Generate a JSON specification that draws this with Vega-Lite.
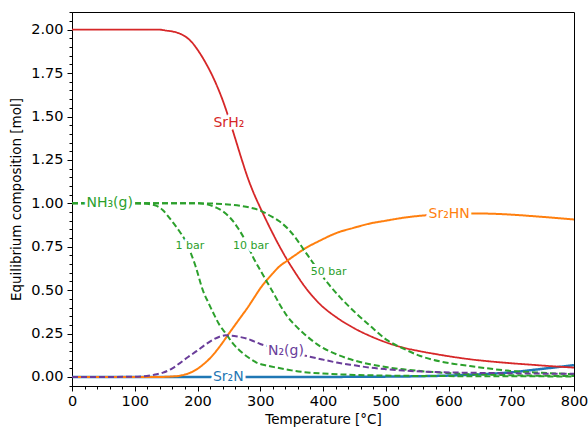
{
  "$schema": "https://vega.github.io/schema/vega-lite/v6.json",
  "width": 502,
  "height": 374,
  "autosize": "none",
  "padding": {"left": 72, "top": 12, "right": 14, "bottom": 44},
  "background": "white",
  "config": {
    "view": {"stroke": "#000", "strokeWidth": 1},
    "font": "DejaVu Sans",
    "axis": {"grid": false, "domainColor": "#000", "tickColor": "#000", "labelColor": "#000", "titleColor": "#000", "labelFont": "DejaVu Sans", "titleFont": "DejaVu Sans", "titleFontWeight": "normal"}
  },
  "datasets": {
    "curves": [
      {"s":"Sr2N","x":0,"y":0},{"s":"Sr2N","x":400,"y":0},{"s":"Sr2N","x":450,"y":0.001},{"s":"Sr2N","x":500,"y":0.002},{"s":"Sr2N","x":550,"y":0.004},{"s":"Sr2N","x":600,"y":0.008},{"s":"Sr2N","x":650,"y":0.015},{"s":"Sr2N","x":700,"y":0.027},{"s":"Sr2N","x":750,"y":0.047},{"s":"Sr2N","x":800,"y":0.068},
      {"s":"SrH2","x":0,"y":2.0},{"s":"SrH2","x":100,"y":2.0},{"s":"SrH2","x":140,"y":2.0},{"s":"SrH2","x":150,"y":1.995},{"s":"SrH2","x":160,"y":1.99},{"s":"SrH2","x":170,"y":1.98},{"s":"SrH2","x":180,"y":1.962},{"s":"SrH2","x":190,"y":1.932},{"s":"SrH2","x":200,"y":1.885},{"s":"SrH2","x":210,"y":1.828},{"s":"SrH2","x":220,"y":1.762},{"s":"SrH2","x":230,"y":1.685},{"s":"SrH2","x":240,"y":1.595},{"s":"SrH2","x":250,"y":1.49},{"s":"SrH2","x":260,"y":1.375},{"s":"SrH2","x":270,"y":1.258},{"s":"SrH2","x":280,"y":1.148},{"s":"SrH2","x":290,"y":1.055},{"s":"SrH2","x":300,"y":0.975},{"s":"SrH2","x":315,"y":0.862},{"s":"SrH2","x":330,"y":0.757},{"s":"SrH2","x":342,"y":0.68},{"s":"SrH2","x":355,"y":0.605},{"s":"SrH2","x":370,"y":0.525},{"s":"SrH2","x":395,"y":0.42},{"s":"SrH2","x":422,"y":0.342},{"s":"SrH2","x":450,"y":0.28},{"s":"SrH2","x":475,"y":0.236},{"s":"SrH2","x":500,"y":0.2},{"s":"SrH2","x":528,"y":0.169},{"s":"SrH2","x":555,"y":0.148},{"s":"SrH2","x":581,"y":0.131},{"s":"SrH2","x":610,"y":0.114},{"s":"SrH2","x":634,"y":0.102},{"s":"SrH2","x":665,"y":0.09},{"s":"SrH2","x":693,"y":0.081},{"s":"SrH2","x":730,"y":0.071},{"s":"SrH2","x":760,"y":0.063},{"s":"SrH2","x":800,"y":0.054},
      {"s":"Sr2HN","x":0,"y":0},{"s":"Sr2HN","x":140,"y":0},{"s":"Sr2HN","x":150,"y":0.001},{"s":"Sr2HN","x":160,"y":0.003},{"s":"Sr2HN","x":170,"y":0.006},{"s":"Sr2HN","x":180,"y":0.014},{"s":"Sr2HN","x":190,"y":0.027},{"s":"Sr2HN","x":200,"y":0.047},{"s":"Sr2HN","x":210,"y":0.075},{"s":"Sr2HN","x":220,"y":0.108},{"s":"Sr2HN","x":230,"y":0.15},{"s":"Sr2HN","x":240,"y":0.198},{"s":"Sr2HN","x":250,"y":0.25},{"s":"Sr2HN","x":260,"y":0.3},{"s":"Sr2HN","x":270,"y":0.35},{"s":"Sr2HN","x":280,"y":0.4},{"s":"Sr2HN","x":290,"y":0.455},{"s":"Sr2HN","x":300,"y":0.51},{"s":"Sr2HN","x":310,"y":0.556},{"s":"Sr2HN","x":320,"y":0.597},{"s":"Sr2HN","x":330,"y":0.635},{"s":"Sr2HN","x":342,"y":0.667},{"s":"Sr2HN","x":355,"y":0.7},{"s":"Sr2HN","x":370,"y":0.737},{"s":"Sr2HN","x":395,"y":0.785},{"s":"Sr2HN","x":422,"y":0.83},{"s":"Sr2HN","x":450,"y":0.86},{"s":"Sr2HN","x":475,"y":0.884},{"s":"Sr2HN","x":500,"y":0.9},{"s":"Sr2HN","x":528,"y":0.917},{"s":"Sr2HN","x":560,"y":0.93},{"s":"Sr2HN","x":600,"y":0.94},{"s":"Sr2HN","x":640,"y":0.942},{"s":"Sr2HN","x":670,"y":0.94},{"s":"Sr2HN","x":700,"y":0.935},{"s":"Sr2HN","x":746,"y":0.923},{"s":"Sr2HN","x":800,"y":0.907},
      {"s":"NH3_1","x":0,"y":1},{"s":"NH3_1","x":100,"y":1},{"s":"NH3_1","x":120,"y":0.997},{"s":"NH3_1","x":135,"y":0.985},{"s":"NH3_1","x":145,"y":0.96},{"s":"NH3_1","x":153,"y":0.926},{"s":"NH3_1","x":165,"y":0.87},{"s":"NH3_1","x":172,"y":0.835},{"s":"NH3_1","x":180,"y":0.79},{"s":"NH3_1","x":188,"y":0.725},{"s":"NH3_1","x":196,"y":0.648},{"s":"NH3_1","x":209,"y":0.495},{"s":"NH3_1","x":217,"y":0.43},{"s":"NH3_1","x":225,"y":0.37},{"s":"NH3_1","x":235,"y":0.3},{"s":"NH3_1","x":246,"y":0.246},{"s":"NH3_1","x":257,"y":0.19},{"s":"NH3_1","x":268,"y":0.15},{"s":"NH3_1","x":280,"y":0.115},{"s":"NH3_1","x":294,"y":0.083},{"s":"NH3_1","x":310,"y":0.066},{"s":"NH3_1","x":326,"y":0.054},{"s":"NH3_1","x":350,"y":0.038},{"s":"NH3_1","x":370,"y":0.028},{"s":"NH3_1","x":400,"y":0.02},{"s":"NH3_1","x":450,"y":0.012},{"s":"NH3_1","x":500,"y":0.008},{"s":"NH3_1","x":600,"y":0.005},{"s":"NH3_1","x":700,"y":0.004},{"s":"NH3_1","x":800,"y":0.003},
      {"s":"NH3_10","x":0,"y":1},{"s":"NH3_10","x":200,"y":1.0},{"s":"NH3_10","x":215,"y":0.994},{"s":"NH3_10","x":230,"y":0.975},{"s":"NH3_10","x":240,"y":0.955},{"s":"NH3_10","x":252,"y":0.917},{"s":"NH3_10","x":265,"y":0.855},{"s":"NH3_10","x":277,"y":0.78},{"s":"NH3_10","x":289,"y":0.687},{"s":"NH3_10","x":300,"y":0.615},{"s":"NH3_10","x":310,"y":0.552},{"s":"NH3_10","x":320,"y":0.49},{"s":"NH3_10","x":331,"y":0.418},{"s":"NH3_10","x":342,"y":0.355},{"s":"NH3_10","x":355,"y":0.3},{"s":"NH3_10","x":368,"y":0.255},{"s":"NH3_10","x":395,"y":0.178},{"s":"NH3_10","x":422,"y":0.13},{"s":"NH3_10","x":450,"y":0.095},{"s":"NH3_10","x":475,"y":0.073},{"s":"NH3_10","x":500,"y":0.057},{"s":"NH3_10","x":528,"y":0.044},{"s":"NH3_10","x":580,"y":0.027},{"s":"NH3_10","x":634,"y":0.016},{"s":"NH3_10","x":700,"y":0.01},{"s":"NH3_10","x":800,"y":0.005},
      {"s":"NH3_50","x":0,"y":1},{"s":"NH3_50","x":200,"y":1.0},{"s":"NH3_50","x":240,"y":0.996},{"s":"NH3_50","x":270,"y":0.985},{"s":"NH3_50","x":290,"y":0.97},{"s":"NH3_50","x":302,"y":0.955},{"s":"NH3_50","x":315,"y":0.93},{"s":"NH3_50","x":331,"y":0.895},{"s":"NH3_50","x":345,"y":0.85},{"s":"NH3_50","x":358,"y":0.793},{"s":"NH3_50","x":369,"y":0.735},{"s":"NH3_50","x":382,"y":0.668},{"s":"NH3_50","x":395,"y":0.6},{"s":"NH3_50","x":410,"y":0.53},{"s":"NH3_50","x":427,"y":0.46},{"s":"NH3_50","x":448,"y":0.383},{"s":"NH3_50","x":475,"y":0.295},{"s":"NH3_50","x":501,"y":0.215},{"s":"NH3_50","x":530,"y":0.16},{"s":"NH3_50","x":555,"y":0.121},{"s":"NH3_50","x":586,"y":0.09},{"s":"NH3_50","x":634,"y":0.063},{"s":"NH3_50","x":693,"y":0.037},{"s":"NH3_50","x":750,"y":0.024},{"s":"NH3_50","x":800,"y":0.016},
      {"s":"N2","x":0,"y":0},{"s":"N2","x":100,"y":0.001},{"s":"N2","x":119,"y":0.006},{"s":"N2","x":130,"y":0.012},{"s":"N2","x":145,"y":0.025},{"s":"N2","x":160,"y":0.05},{"s":"N2","x":172,"y":0.08},{"s":"N2","x":185,"y":0.115},{"s":"N2","x":199,"y":0.15},{"s":"N2","x":212,"y":0.185},{"s":"N2","x":225,"y":0.215},{"s":"N2","x":235,"y":0.232},{"s":"N2","x":245,"y":0.24},{"s":"N2","x":255,"y":0.238},{"s":"N2","x":265,"y":0.232},{"s":"N2","x":278,"y":0.222},{"s":"N2","x":290,"y":0.205},{"s":"N2","x":300,"y":0.19},{"s":"N2","x":320,"y":0.17},{"s":"N2","x":342,"y":0.15},{"s":"N2","x":374,"y":0.121},{"s":"N2","x":400,"y":0.1},{"s":"N2","x":422,"y":0.083},{"s":"N2","x":450,"y":0.067},{"s":"N2","x":475,"y":0.054},{"s":"N2","x":500,"y":0.045},{"s":"N2","x":528,"y":0.037},{"s":"N2","x":580,"y":0.028},{"s":"N2","x":640,"y":0.024},{"s":"N2","x":700,"y":0.021},{"s":"N2","x":800,"y":0.018}
    ],
    "bigLabels": [
      {"s":"NH3_1","t":"NH₃(g)","x":60,"y":1.0},
      {"s":"SrH2","t":"SrH₂","x":250,"y":1.465},
      {"s":"Sr2HN","t":"Sr₂HN","x":601,"y":0.936},
      {"s":"N2","t":"N₂(g)","x":341,"y":0.15},
      {"s":"Sr2N","t":"Sr₂N","x":249,"y":0.0}
    ],
    "smallLabels": [
      {"s":"NH3_1","t":"1 bar","x":188,"y":0.754},
      {"s":"NH3_10","t":"10 bar","x":285,"y":0.754},
      {"s":"NH3_50","t":"50 bar","x":409,"y":0.604}
    ]
  },
  "encoding": {
    "x": {"field": "x", "type": "quantitative", "scale": {"domain": [0, 800], "nice": false, "zero": false},
      "axis": {"title": "Temperature [°C]", "values": [0,20,40,60,80,100,120,140,160,180,200,220,240,260,280,300,320,340,360,380,400,420,440,460,480,500,520,540,560,580,600,620,640,660,680,700,720,740,760,780,800],
        "labelExpr": "datum.value % 100 === 0 ? datum.label : ''",
        "tickSize": {"condition": {"test": "datum.value % 100 === 0", "value": 5}, "value": 3},
        "labelPadding": 3, "titlePadding": 5, "labelFlush": false, "labelOverlap": false, "labelFontSize": 14.5, "titleFontSize": 13.5}},
    "y": {"field": "y", "type": "quantitative", "scale": {"domain": [-0.052, 2.102], "nice": false, "zero": false},
      "axis": {"title": "Equilibrium composition [mol]", "values": [-0.05,0,0.05,0.1,0.15,0.2,0.25,0.3,0.35,0.4,0.45,0.5,0.55,0.6,0.65,0.7,0.75,0.8,0.85,0.9,0.95,1,1.05,1.1,1.15,1.2,1.25,1.3,1.35,1.4,1.45,1.5,1.55,1.6,1.65,1.7,1.75,1.8,1.85,1.9,1.95,2,2.05,2.1],
        "labelExpr": "abs(datum.value*4 - round(datum.value*4)) < 0.001 ? format(datum.value, '.2f') : ''",
        "tickSize": {"condition": {"test": "abs(datum.value*4 - round(datum.value*4)) < 0.001", "value": 5}, "value": 3},
        "labelPadding": 4, "titlePadding": 7, "labelFlush": false, "labelOverlap": false, "labelFontSize": 14.5, "titleFontSize": 13.5}}
  },
  "layer": [
    {
      "data": {"name": "curves"},
      "mark": {"type": "line", "interpolate": "monotone", "clip": true},
      "encoding": {
        "detail": {"field": "s"},
        "color": {"field": "s", "type": "nominal", "legend": null, "scale": {"domain": ["Sr2N","SrH2","Sr2HN","NH3_1","NH3_10","NH3_50","N2"], "range": ["#1f77b4","#d62728","#ff7f0e","#2ca02c","#2ca02c","#2ca02c","#6a3d9a"]}},
        "strokeDash": {"field": "s", "type": "nominal", "legend": null, "scale": {"domain": ["Sr2N","SrH2","Sr2HN","NH3_1","NH3_10","NH3_50","N2"], "range": [[1,0],[1,0],[1,0],[6,3],[6,3],[6,3],[6,3]]}},
        "strokeWidth": {"field": "s", "type": "nominal", "legend": null, "scale": {"type": "ordinal", "domain": ["Sr2N","SrH2","Sr2HN","NH3_1","NH3_10","NH3_50","N2"], "range": [2.5,1.8,2,2,2,2,2]}}
      }
    },
    {
      "data": {"name": "bigLabels"},
      "mark": {"type": "text", "font": "DejaVu Sans", "fontSize": 14, "align": "center", "baseline": "middle", "stroke": "white", "strokeWidth": 6, "fill": "white", "strokeJoin": "round"},
      "encoding": {"text": {"field": "t"}}
    },
    {
      "data": {"name": "smallLabels"},
      "mark": {"type": "text", "font": "DejaVu Sans", "fontSize": 11, "align": "center", "baseline": "middle", "stroke": "white", "strokeWidth": 6, "fill": "white", "strokeJoin": "round"},
      "encoding": {"text": {"field": "t"}}
    },
    {
      "data": {"name": "bigLabels"},
      "mark": {"type": "text", "font": "DejaVu Sans", "fontSize": 14, "align": "center", "baseline": "middle"},
      "encoding": {"text": {"field": "t"}, "color": {"field": "s", "type": "nominal", "legend": null}}
    },
    {
      "data": {"name": "smallLabels"},
      "mark": {"type": "text", "font": "DejaVu Sans", "fontSize": 11, "align": "center", "baseline": "middle"},
      "encoding": {"text": {"field": "t"}, "color": {"field": "s", "type": "nominal", "legend": null}}
    }
  ]
}
